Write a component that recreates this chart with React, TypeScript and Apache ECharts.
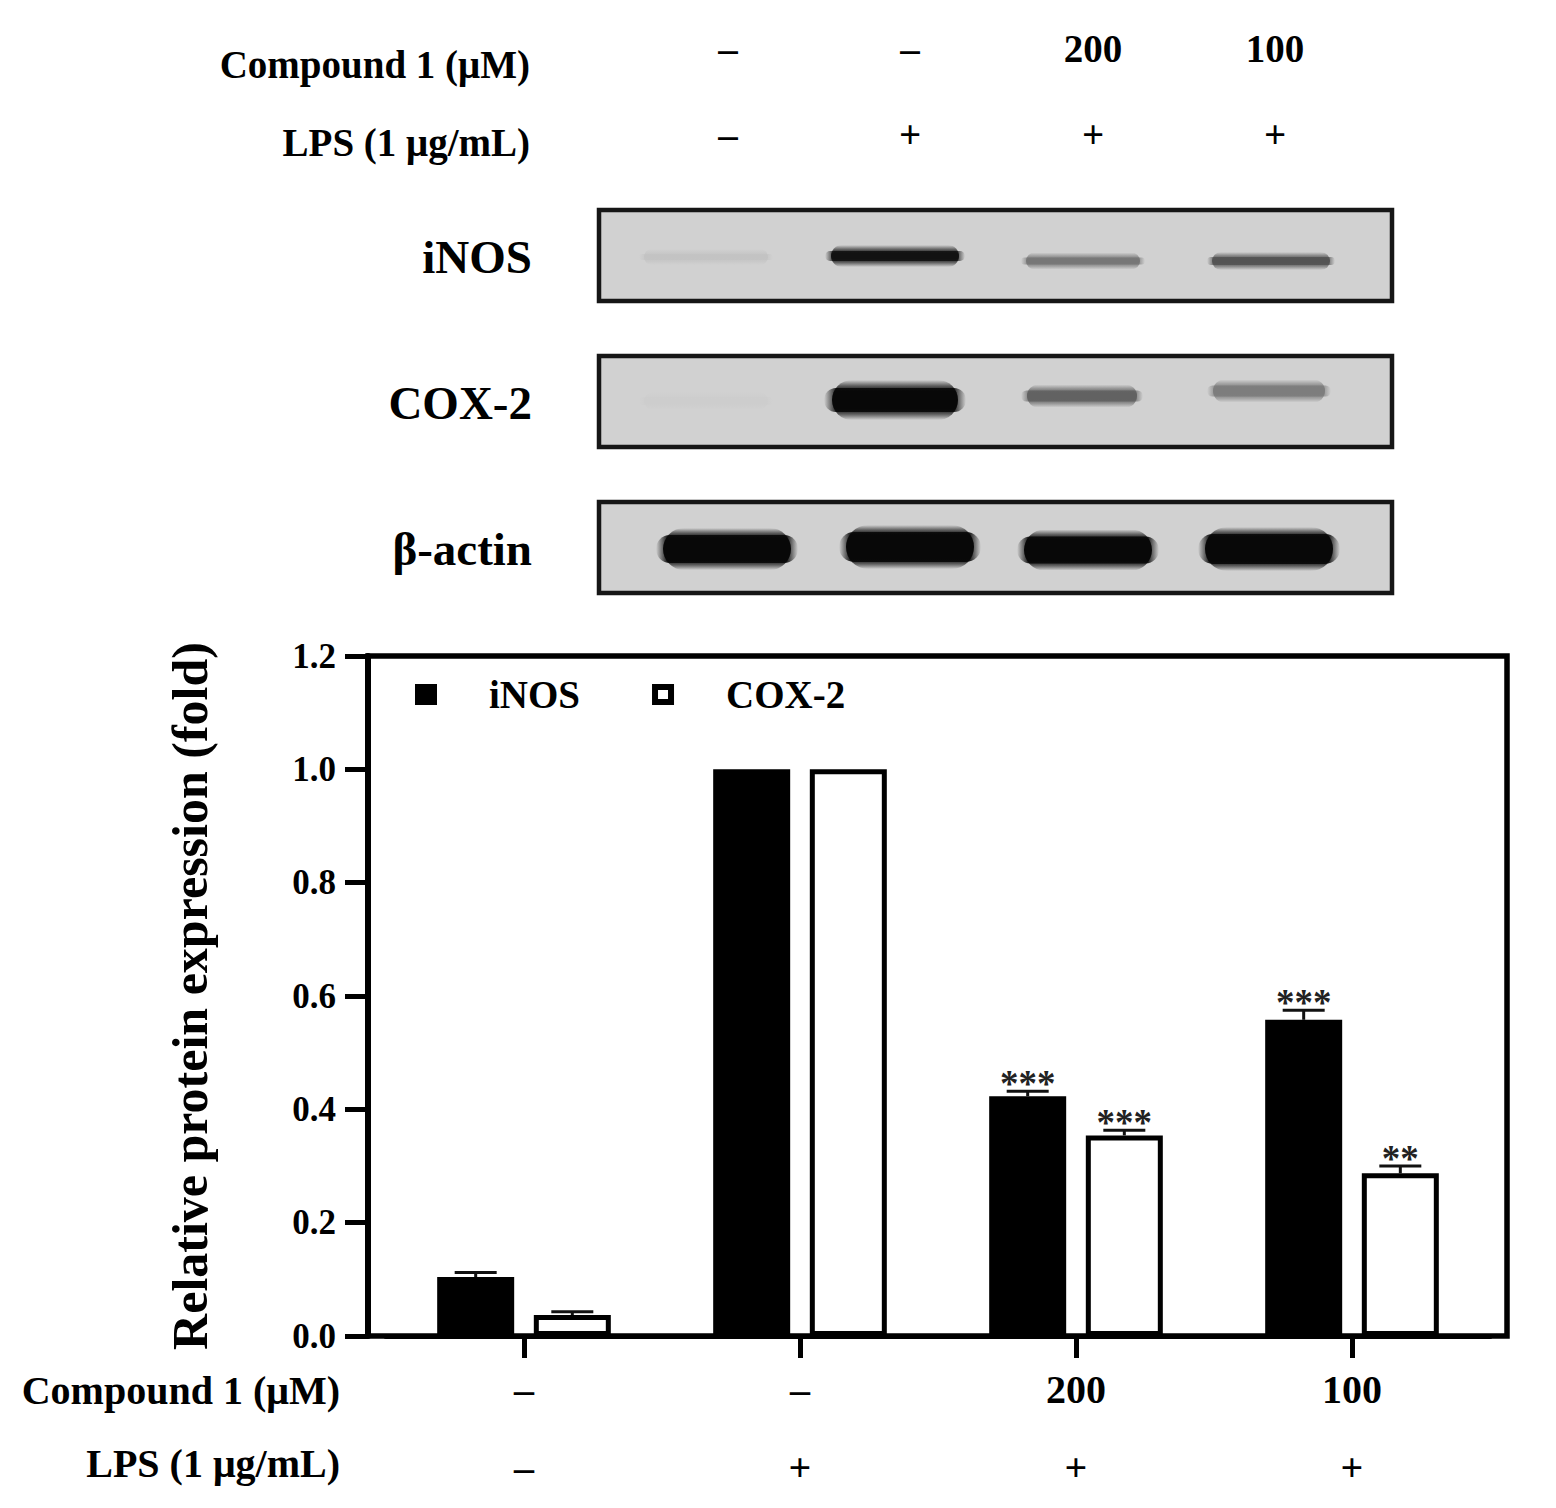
import React, { useEffect, useRef } from "react";
import * as echarts from "echarts";

// ---------- data ----------
const groups = ["G1", "G2", "G3", "G4"];
const compoundLabels = ["–", "–", "200", "100"];
const lpsLabels = ["–", "+", "+", "+"];
const seriesNames = ["iNOS", "COX-2"];
const inosMean = [0.104, 1.0, 0.423, 0.558];
const inosErr = [0.008, 0, 0.009, 0.017];
const coxMean = [0.037, 1.0, 0.354, 0.287];
const coxErr = [0.006, 0, 0.009, 0.013];
const inosSig = ["", "", "***", "***"];
const coxSig = ["", "", "***", "**"];
const yMin = 0;
const yMax = 1.2;
const yStep = 0.2;

// blot band intensities (0 = none, 1 = saturated)
const blotRows = ["iNOS", "COX-2", "β-actin"];
const blotINOS = [0.07, 0.95, 0.45, 0.62];
const blotCOX = [0.02, 1.0, 0.55, 0.42];
const blotActin = [1.0, 1.0, 1.0, 1.0];

// ---------- layout ----------
const FONT = "'Liberation Serif', 'Times New Roman', serif";
const GRID_LEFT = 386;
const GRID_TOP = 656;
const GRID_W = 1104;
const GRID_H = 680;
const FRAME_LEFT = 368;
const FRAME_RIGHT = 1507;
const BAR_W = 77;
const BAR_GAP = 0.255;
const BAR_OFF = (BAR_W * (1 + BAR_GAP)) / 2;

const laneX = [728, 910, 1093, 1275];
const boxLeft = 599;
const boxRight = 1392;
const boxTops = [210, 356, 502];
const boxH = 91;
const BG_GRAY = 209;

function grayVal(intensity: number) {
  return Math.round(BG_GRAY * (1 - intensity) + 8 * intensity);
}

function vGrad(v: number, soft: number, H: number) {
  const f = Math.min(0.45, soft / H);
  const c = (a: number) => `rgba(${v},${v},${v},${a})`;
  return {
    type: "linear",
    x: 0,
    y: 0,
    x2: 0,
    y2: 1,
    colorStops: [
      { offset: 0, color: c(0) },
      { offset: f * 0.5, color: c(0.55) },
      { offset: f, color: c(1) },
      { offset: 1 - f, color: c(1) },
      { offset: 1 - f * 0.5, color: c(0.55) },
      { offset: 1, color: c(0) },
    ],
  };
}

function hGrad(v: number, soft: number, W: number) {
  const f = Math.min(0.45, soft / W);
  const c = (a: number) => `rgba(${v},${v},${v},${a})`;
  return {
    type: "linear",
    x: 0,
    y: 0,
    x2: 1,
    y2: 0,
    colorStops: [
      { offset: 0, color: c(0) },
      { offset: f, color: c(0.9) },
      { offset: 1 - f, color: c(0.9) },
      { offset: 1, color: c(0) },
    ],
  };
}

function bandGraphics() {
  const out: any[] = [];
  // per band: [dx, dy(from box top), core width, core height, softness]
  const rowSpecs = [
    { vals: blotINOS, geo: [[-22, 47, 124, 6, 5], [-15, 46, 128, 10, 6], [-10, 51, 114, 7, 5], [-4, 51, 118, 8, 5]] },
    { vals: blotCOX, geo: [[-22, 45, 124, 8, 5], [-15, 44, 126, 24, 8], [-11, 40, 110, 11, 6], [-6, 35, 112, 11, 6]] },
    { vals: blotActin, geo: [[-1, 47, 128, 28, 7], [0, 45, 128, 30, 7], [-5, 48, 128, 27, 7], [-6, 47, 128, 30, 7]] },
  ];
  rowSpecs.forEach((row, r) => {
    row.vals.forEach((iv, i) => {
      const [dx, dy, w, h, s] = row.geo[i];
      const v = grayVal(iv);
      const cx = laneX[i] + dx;
      const cy = boxTops[r] + dy;
      const H = h + 2 * s;
      const W = w + 2 * s;
      // soft horizontal halo
      out.push({
        type: "rect",
        shape: { x: cx - W / 2, y: cy - h / 2, width: W, height: h, r: h / 2 },
        style: { fill: hGrad(v, s * 1.6, W) },
        z: 2,
        silent: true,
      });
      // main body with vertical softness
      out.push({
        type: "rect",
        shape: { x: cx - w / 2, y: cy - H / 2, width: w, height: H, r: H / 2 },
        style: { fill: vGrad(v, s * 1.4, H) },
        z: 2,
        silent: true,
      });
    });
  });
  return out;
}

function buildOption(): any {
  const graphic: any[] = [];

  // top condition rows
  graphic.push({
    type: "text",
    style: { text: "Compound 1 (μM)", x: 530, y: 64, align: "right", verticalAlign: "middle", font: `bold 39px ${FONT}`, fill: "#000" },
  });
  graphic.push({
    type: "text",
    style: { text: "LPS (1 μg/mL)", x: 530, y: 142, align: "right", verticalAlign: "middle", font: `bold 39px ${FONT}`, fill: "#000" },
  });
  compoundLabels.forEach((t, i) => {
    graphic.push({
      type: "text",
      style: { text: t, x: laneX[i], y: 48, align: "center", verticalAlign: "middle", font: `bold 39px ${FONT}`, fill: "#000" },
    });
  });
  lpsLabels.forEach((t, i) => {
    graphic.push({
      type: "text",
      style: { text: t, x: laneX[i], y: 134, align: "center", verticalAlign: "middle", font: `bold 39px ${FONT}`, fill: "#000" },
    });
  });

  // blot boxes + labels
  blotRows.forEach((name, r) => {
    graphic.push({
      type: "rect",
      shape: { x: boxLeft, y: boxTops[r], width: boxRight - boxLeft, height: boxH },
      style: { fill: `rgb(${BG_GRAY},${BG_GRAY},${BG_GRAY})`, stroke: "#161616", lineWidth: 4.5 },
      z: 1,
    });
    graphic.push({
      type: "text",
      style: { text: name, x: 532, y: boxTops[r] + 47, align: "right", verticalAlign: "middle", font: `bold 47px ${FONT}`, fill: "#000" },
    });
  });
  graphic.push(...bandGraphics());

  // plot frame
  graphic.push({
    type: "rect",
    shape: { x: FRAME_LEFT, y: GRID_TOP, width: FRAME_RIGHT - FRAME_LEFT, height: GRID_H },
    style: { fill: "none", stroke: "#000", lineWidth: 5.5 },
    z: 20,
    silent: true,
  });

  // bottom row labels
  graphic.push({
    type: "text",
    style: { text: "Compound 1 (μM)", x: 340, y: 1390, align: "right", verticalAlign: "middle", font: `bold 40px ${FONT}`, fill: "#000" },
  });
  graphic.push({
    type: "text",
    style: { text: "LPS (1 μg/mL)", x: 340, y: 1463, align: "right", verticalAlign: "middle", font: `bold 40px ${FONT}`, fill: "#000" },
  });

  const errSeries = (means: number[], errs: number[], sig: string[], side: number, name: string) => ({
    type: "custom",
    name,
    silent: true,
    z: 5,
    encode: { x: 0, y: 1 },
    data: means.map((m, i) => [i, m, errs[i]]),
    renderItem: (params: any, api: any) => {
      const idx = api.value(0);
      const m = api.value(1);
      const e = api.value(2);
      const base = api.coord([idx, m]);
      const top = api.coord([idx, m + e]);
      const cx = base[0] + side * BAR_OFF;
      const children: any[] = [];
      if (e > 0) {
        children.push({
          type: "line",
          shape: { x1: cx, y1: base[1], x2: cx, y2: top[1] },
          style: { stroke: "#111", lineWidth: 3 },
        });
        children.push({
          type: "line",
          shape: { x1: cx - 21, y1: top[1], x2: cx + 21, y2: top[1] },
          style: { stroke: "#111", lineWidth: 3 },
        });
      }
      const s = sig[params.dataIndex];
      if (s) {
        children.push({
          type: "text",
          style: { text: s, x: cx, y: top[1] - 8, align: "center", verticalAlign: "middle", font: `bold 37px ${FONT}`, fill: "#222" },
        });
      }
      return { type: "group", children };
    },
  });

  return {
    animation: false,
    backgroundColor: "#fff",
    grid: { left: GRID_LEFT, top: GRID_TOP, width: GRID_W, height: GRID_H, containLabel: false },
    legend: {
      data: [
        { name: "iNOS", itemStyle: { color: "#000", borderColor: "#000", borderWidth: 6 } },
        { name: "COX-2", itemStyle: { color: "#fff", borderColor: "#000", borderWidth: 6 } },
      ],
      left: 415,
      top: 675,
      padding: 0,
      itemWidth: 16,
      itemHeight: 15,
      itemGap: 72,
      icon: "rect",
      selectedMode: false,
      textStyle: { fontFamily: FONT, fontWeight: "bold", fontSize: 39, color: "#000", padding: [0, 0, 0, 50] },
    },
    xAxis: {
      type: "category",
      data: groups,
      axisLine: { show: true, lineStyle: { color: "#000", width: 5 } },
      axisTick: { show: true, alignWithLabel: true, length: 22, lineStyle: { color: "#000", width: 5 } },
      axisLabel: {
        margin: 14,
        interval: 0,
        formatter: (_v: string, i: number) => `{a|${compoundLabels[i]}}\n{b|${lpsLabels[i]}}`,
        rich: {
          a: { fontFamily: FONT, fontWeight: "bold", fontSize: 40, lineHeight: 78, color: "#000" },
          b: { fontFamily: FONT, fontWeight: "bold", fontSize: 40, lineHeight: 78, color: "#000" },
        },
      },
      splitLine: { show: false },
    },
    yAxis: {
      type: "value",
      min: yMin,
      max: yMax,
      interval: yStep,
      offset: GRID_LEFT - FRAME_LEFT,
      name: "Relative protein expression (fold)",
      nameLocation: "middle",
      nameGap: 153,
      nameTextStyle: { fontFamily: FONT, fontWeight: "bold", fontSize: 50, color: "#000" },
      axisLine: { show: true, lineStyle: { color: "#000", width: 6 } },
      axisTick: { show: true, length: 23, lineStyle: { color: "#000", width: 5 } },
      axisLabel: {
        margin: 32,
        fontFamily: FONT,
        fontWeight: "bold",
        fontSize: 35,
        color: "#000",
        formatter: (v: number) => v.toFixed(1),
      },
      splitLine: { show: false },
    },
    series: [
      {
        name: seriesNames[0],
        type: "bar",
        data: inosMean,
        barWidth: BAR_W,
        barGap: `${BAR_GAP * 100}%`,
        itemStyle: { color: "#000", borderColor: "#000", borderWidth: 5 },
      },
      {
        name: seriesNames[1],
        type: "bar",
        data: coxMean,
        barWidth: BAR_W,
        barGap: `${BAR_GAP * 100}%`,
        itemStyle: { color: "#fff", borderColor: "#000", borderWidth: 5 },
      },
      errSeries(inosMean, inosErr, inosSig, -1, "iNOS-err"),
      errSeries(coxMean, coxErr, coxSig, 1, "COX-2-err"),
    ],
    graphic,
  };
}

export default function App() {
  const ref = useRef<HTMLDivElement>(null);
  useEffect(() => {
    if (!ref.current) return;
    const chart = echarts.init(ref.current, undefined, { renderer: "svg" });
    chart.setOption(buildOption());
    return () => chart.dispose();
  }, []);
  return (
    <div
      ref={ref}
      style={{ position: "absolute", left: 0, top: 0, width: 1556, height: 1508, background: "#fff" }}
    />
  );
}
